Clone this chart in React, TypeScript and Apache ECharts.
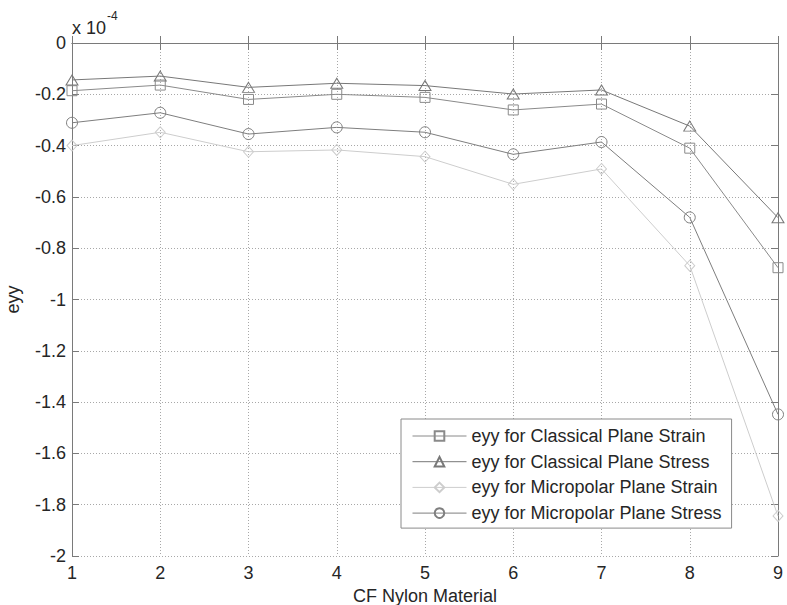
import React, { useEffect, useRef } from "react";
import * as echarts from "echarts";

const materials = [1, 2, 3, 4, 5, 6, 7, 8, 9];
const classicalStrain = [-0.186, -0.164, -0.22, -0.2, -0.212, -0.261, -0.238, -0.41, -0.876];
const classicalStress = [-0.144, -0.129, -0.173, -0.157, -0.166, -0.199, -0.183, -0.324, -0.681];
const micropolarStrain = [-0.4, -0.348, -0.424, -0.417, -0.443, -0.551, -0.491, -0.868, -1.844];
const micropolarStress = [-0.311, -0.272, -0.355, -0.329, -0.348, -0.434, -0.386, -0.68, -1.448];
const seriesNames = [
  "eyy for Classical Plane Strain",
  "eyy for Classical Plane Stress",
  "eyy for Micropolar Plane Strain",
  "eyy for Micropolar Plane Stress",
];

const FONT = "'Liberation Sans', Arial, sans-serif";
const FS = 18;
const TXT = "#262626";
const AX = "#7a7a7a";

function pairs(vals: number[]) {
  return materials.map((m, i) => [m, vals[i]]);
}

export default function App() {
  const ref = useRef<HTMLDivElement>(null);
  useEffect(() => {
    if (!ref.current) return;
    const chart = echarts.init(ref.current, undefined, { renderer: "svg" });
    const mk = (name: string, vals: number[], color: string, symbol: string, size: any) => ({
      name,
      type: "line",
      data: pairs(vals),
      symbol,
      symbolSize: size,
      lineStyle: { color, width: 1 },
      itemStyle: { color: "rgba(255,255,255,0)", borderColor: color, borderWidth: 1 },
      emphasis: { disabled: true },
      z: 3,
    });
    const splitLine = { show: true, lineStyle: { color: "#a8a8a8", type: [1, 2], width: 1 } };
    chart.setOption({
      animation: false,
      backgroundColor: "#ffffff",
      textStyle: { fontFamily: FONT },
      grid: { left: 72, right: 9, top: 43, bottom: 49, containLabel: false, outerBoundsMode: "none" },
      xAxis: [
        {
          type: "value",
          min: 1,
          max: 9,
          interval: 1,
          position: "bottom",
          name: "CF Nylon Material",
          nameLocation: "middle",
          nameGap: 29,
          nameTextStyle: { fontSize: FS, color: TXT, fontFamily: FONT },
          axisLine: { show: true, lineStyle: { color: AX, width: 1 } },
          axisTick: { show: true, inside: true, length: 7, lineStyle: { color: AX } },
          axisLabel: { fontSize: FS, color: TXT, fontFamily: FONT, margin: 8 },
          splitLine,
        },
        {
          type: "value",
          min: 1,
          max: 9,
          interval: 1,
          position: "top",
          axisLine: { show: true, lineStyle: { color: AX, width: 1 } },
          axisTick: { show: true, inside: true, length: 7, lineStyle: { color: AX } },
          axisLabel: { show: false },
          splitLine: { show: false },
        },
      ],
      yAxis: [
        {
          type: "value",
          min: -2,
          max: 0,
          interval: 0.2,
          position: "left",
          name: "eyy",
          nameLocation: "middle",
          nameGap: 50,
          nameTextStyle: { fontSize: FS, color: TXT, fontFamily: FONT },
          axisLine: { show: true, lineStyle: { color: AX, width: 1 } },
          axisTick: { show: true, inside: true, length: 7, lineStyle: { color: AX } },
          axisLabel: {
            fontSize: FS,
            color: TXT,
            fontFamily: FONT,
            margin: 6,
            formatter: (v: number) => String(Math.round(v * 10) / 10),
          },
          splitLine,
        },
        {
          type: "value",
          min: -2,
          max: 0,
          interval: 0.2,
          position: "right",
          axisLine: { show: true, lineStyle: { color: AX, width: 1 } },
          axisTick: { show: true, inside: true, length: 7, lineStyle: { color: AX } },
          axisLabel: { show: false },
          splitLine: { show: false },
        },
      ],
      legend: {
        orient: "vertical",
        left: 401,
        top: 419,
        backgroundColor: "#ffffff",
        borderColor: "#8a8a8a",
        borderWidth: 1,
        borderRadius: 0,
        padding: [8, 10, 6, 11],
        itemWidth: 54,
        itemHeight: 12,
        itemGap: 7.7,
        lineStyle: { width: 1 },
        textStyle: { fontSize: FS, color: TXT, fontFamily: FONT, lineHeight: 18 },
        data: seriesNames,
        selectedMode: false,
      },
      graphic: [
        {
          type: "text",
          left: 72,
          top: 19,
          style: { text: "x 10", fontSize: FS, fill: TXT, fontFamily: FONT },
        },
        {
          type: "text",
          left: 107,
          top: 10,
          style: { text: "-4", fontSize: 12, fill: TXT, fontFamily: FONT },
        },
      ],
      series: [
        mk(seriesNames[0], classicalStrain, "#8a8a8a", "rect", 10),
        mk(seriesNames[1], classicalStress, "#787878", "triangle", [12, 10]),
        mk(seriesNames[2], micropolarStrain, "#cdcdcd", "diamond", [10, 11]),
        mk(seriesNames[3], micropolarStress, "#7e7e7e", "circle", 11),
      ],
    });
    return () => chart.dispose();
  }, []);
  return (
    <div
      ref={ref}
      style={{ position: "fixed", left: 0, top: 0, width: 787, height: 605, background: "#fff" }}
    />
  );
}
